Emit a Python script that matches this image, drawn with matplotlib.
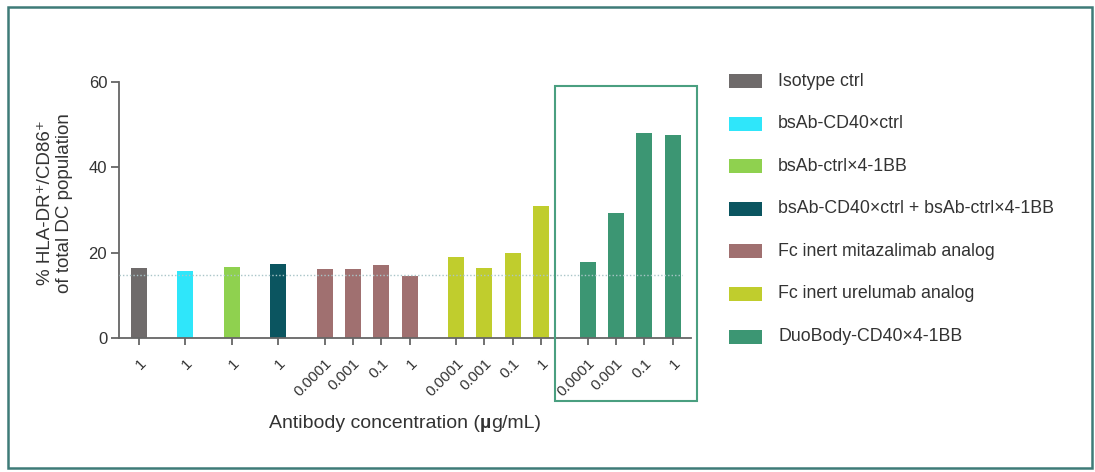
import matplotlib
matplotlib.use("Agg")
import matplotlib.pyplot as plt
from matplotlib.patches import Rectangle
import matplotlib.transforms as mtransforms

plt.rcParams['font.family'] = ['Liberation Sans', 'DejaVu Sans']

# Treatment groups, the concentrations tested and the measured values
groups = ["Isotype ctrl", "bsAb-CD40×ctrl", "bsAb-ctrl×4-1BB",
          "bsAb-CD40×ctrl + bsAb-ctrl×4-1BB", "Fc inert mitazalimab analog",
          "Fc inert urelumab analog", "DuoBody-CD40×4-1BB"]
colors = ["#6f6b6b", "#2fe6fa", "#8fd14f", "#0b5560", "#a07070", "#c0cd2d", "#3c9673"]
concentrations = [["1"], ["1"], ["1"], ["1"],
                  ["0.0001", "0.001", "0.1", "1"],
                  ["0.0001", "0.001", "0.1", "1"],
                  ["0.0001", "0.001", "0.1", "1"]]
values = [[16.3], [15.7], [16.6], [17.3],
          [16.2, 16.2, 17.1, 14.5],
          [19.0, 16.5, 19.9, 30.9],
          [17.9, 29.4, 48.0, 47.6]]
baseline = 14.8
yticks = [0, 20, 40, 60]

text_color = "#333333"
axis_color = "#666666"

fig = plt.figure(figsize=(10.95, 4.72), dpi=100)
W, H = 1095, 472
ax = fig.add_axes([119 / W, 1 - 338 / H, (690.7 - 119) / W, (338 - 82) / H])

# bar positions: unit spacing within a group, wider gap between groups
group_gap = 1.64
positions, labels, bar_colors, heights = [], [], [], []
x = 0.0
group_spans = []
for gi, (concs, vals) in enumerate(zip(concentrations, values)):
    if gi > 0:
        x += group_gap
    start = x
    for ci, (c, v) in enumerate(zip(concs, vals)):
        if ci > 0:
            x += 1.0
        positions.append(x)
        labels.append(c)
        bar_colors.append(colors[gi])
        heights.append(v)
    group_spans.append((start, x))

ax.bar(positions, heights, width=0.565, color=bar_colors, zorder=2)
ax.hlines(baseline, -0.695, 19.17, colors="#a9c5c8", linestyles=(0, (1, 1.5)),
          linewidth=1.0, zorder=3)

ax.set_xlim(-0.695, 19.48)
ax.set_ylim(0, 60)
ax.set_yticks(yticks)
for s in ["top", "right"]:
    ax.spines[s].set_visible(False)
for s in ["left", "bottom"]:
    ax.spines[s].set_color(axis_color)
    ax.spines[s].set_linewidth(1.3)
ax.tick_params(axis="y", length=5.5, width=1.3, color=axis_color,
               labelcolor=text_color, labelsize=12, pad=3)
ax.tick_params(axis="x", length=5, width=1.3, color=axis_color,
               labelcolor=text_color, labelsize=11, pad=12)
ax.set_xticks(positions)
ax.set_xticklabels(labels, rotation=45, ha="right", va="center",
                   rotation_mode="anchor")
shift = mtransforms.ScaledTranslation(5 / 100, 0, fig.dpi_scale_trans)
for lab in ax.get_xticklabels():
    lab.set_transform(lab.get_transform() + shift)

# highlight frame around the DuoBody group
g0, g1 = group_spans[-1]
px = 28.33  # pixels per x unit
py = 256 / 60
left = g0 - (586.3 - 554) / px
right = g1 + (696 - 671.3) / px
top = (338 - 86) / py
bottom = (338 - 401) / py
ax.add_patch(Rectangle((left, bottom), right - left, top - bottom, fill=False,
                       edgecolor="#4a9f80", linewidth=1.5, clip_on=False, zorder=4))

# y-axis title
fig.text(55 / W, 1 - 203 / H, "% HLA-DR⁺/CD86⁺\nof total DC population",
         rotation=90, ha="center", va="center", multialignment="center",
         fontsize=13.5, color=text_color, linespacing=1.15)

# x-axis title with a bold micro sign
t1 = fig.text(0, 1 - 423 / H, "Antibody concentration (", ha="left", va="center",
              fontsize=14, color=text_color)
t2 = fig.text(0, 1 - 423 / H, "µ", ha="left", va="center", fontsize=14,
              color=text_color, fontweight="bold")
t3 = fig.text(0, 1 - 423 / H, "g/mL)", ha="left", va="center", fontsize=14,
              color=text_color)
fig.canvas.draw()
r = fig.canvas.get_renderer()
w1 = t1.get_window_extent(r).width
w2 = t2.get_window_extent(r).width
w3 = t3.get_window_extent(r).width
x0 = 405 - (w1 + w2 + w3) / 2
t1.set_x(x0 / W)
t2.set_x((x0 + w1) / W)
t3.set_x((x0 + w1 + w2) / W)

# legend
for i, (name, col) in enumerate(zip(groups, colors)):
    yc = 81 + 42.6 * i
    fig.add_artist(Rectangle((729 / W, 1 - (yc + 7) / H), 33 / W, 14 / H,
                             facecolor=col, edgecolor="none"))
    fig.text(778 / W, 1 - yc / H, name, ha="left", va="center",
             fontsize=12.8, color=text_color)

# outer frame
fig.add_artist(Rectangle((7.5 / W, 1 - 467.5 / H), (1092 - 7.5) / W, (467.5 - 7) / H,
                         fill=False, edgecolor="#3e7b78", linewidth=1.8))

fig.savefig("out.png", dpi=100)
